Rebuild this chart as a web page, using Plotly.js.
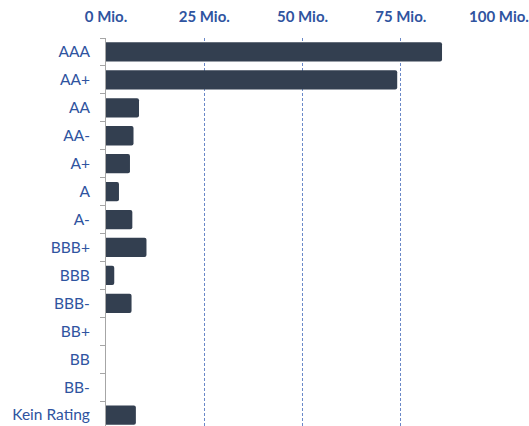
<!DOCTYPE html>
<html>
<head>
<meta charset="utf-8">
<script src="https://cdn.plot.ly/plotly-3.0.1.min.js"></script>
<style>html,body{margin:0;padding:0;overflow:hidden;background:#fff}</style>
</head>
<body>
<div id="chart" style="width:529px;height:429px"></div>
<script>
const categories = ["AAA","AA+","AA","AA-","A+","A","A-","BBB+","BBB","BBB-","BB+","BB","BB-","Kein Rating"];
const values = [85.5, 74.1, 8.4, 7.0, 6.1, 3.3, 6.7, 10.3, 2.1, 6.5, 0, 0, 0, 7.6];
const tickVals = [0, 25, 50, 75, 100];
const tickText = ["0 Mio.", "25 Mio.", "50 Mio.", "75 Mio.", "100 Mio."];

const trace = {
  type: 'bar',
  orientation: 'h',
  x: values,
  y: categories,
  marker: {color: '#333F50', line: {width: 0}, cornerradius: 2},
  hoverinfo: 'x+y'
};

const layout = {
  width: 529,
  height: 429,
  margin: {l: 106, r: 30, t: 38, b: 0, pad: 0},
  paper_bgcolor: '#ffffff',
  plot_bgcolor: '#ffffff',
  bargap: 0.31,
  showlegend: false,
  font: {family: 'Lato, "Open Sans", sans-serif', color: '#2F54A0'},
  xaxis: {
    side: 'top',
    range: [0, 100],
    tickvals: tickVals,
    ticktext: tickText,
    tickfont: {family: 'Lato, "Open Sans", sans-serif', size: 15, color: '#2F54A0', weight: 'bold'},
    ticks: '',
    ticklabelstandoff: 12,
    showgrid: true,
    gridcolor: '#6A88C8',
    griddash: '3px,2px',
    gridwidth: 1,
    zeroline: false,
    showline: false,
    fixedrange: true
  },
  yaxis: {
    type: 'category',
    autorange: 'reversed',
    tickfont: {family: 'Lato, "Open Sans", sans-serif', size: 15.5, color: '#2F54A0'},
    ticks: 'outside',
    tickson: 'boundaries',
    ticklen: 5,
    tickcolor: '#A6A6A6',
    ticklabelstandoff: 12,
    showline: true,
    linecolor: '#A6A6A6',
    linewidth: 1,
    showgrid: false,
    zeroline: false,
    fixedrange: true
  }
};

Plotly.newPlot('chart', [trace], layout, {displayModeBar: false, staticPlot: true});
</script>
</body>
</html>
